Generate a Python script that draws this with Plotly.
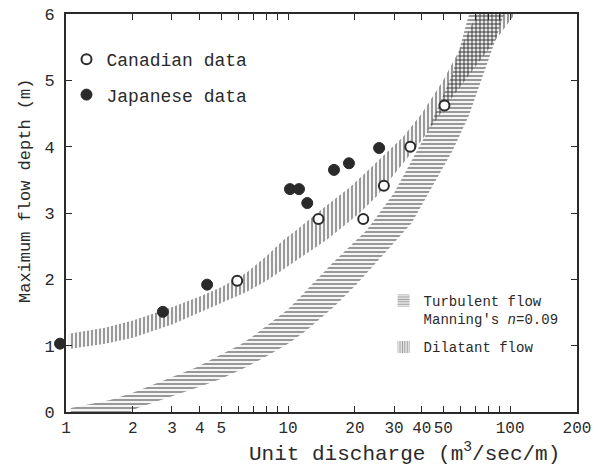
import math
import plotly.graph_objects as go

# ---- data ----
can_x = [5.9, 13.7, 21.8, 27.0, 35.5, 50.6]
can_y = [1.98, 2.91, 2.91, 3.41, 4.00, 4.62]

jap_x = [0.94, 2.73, 4.32, 10.2, 11.2, 12.2, 16.1, 18.8, 25.7]
jap_y = [1.03, 1.51, 1.92, 3.36, 3.36, 3.15, 3.65, 3.75, 3.98]

# Dilatant flow band (vertical hatching)
dil_upper_x = [1.03, 1.5, 2, 3, 4, 5, 6.5, 8, 9.5, 11, 13.5, 16, 19, 23, 27, 33, 40, 50, 60, 72]
dil_upper_y = [1.18, 1.27, 1.38, 1.58, 1.74, 1.88, 2.10, 2.35, 2.59, 2.75, 3.00, 3.20, 3.39, 3.65, 3.87, 4.15, 4.50, 5.00, 5.50, 6.05]
dil_lower_x = [1.03, 1.5, 2, 3, 4, 5, 6.5, 8, 10, 12.5, 15, 18, 21, 25, 30, 40, 55, 75, 95, 108]
dil_lower_y = [0.95, 1.03, 1.12, 1.32, 1.50, 1.64, 1.81, 1.98, 2.20, 2.42, 2.60, 2.82, 3.00, 3.25, 3.58, 4.10, 4.75, 5.35, 5.80, 6.05]

# Turbulent flow band, Manning's n = 0.09 (horizontal hatching)
tur_upper_x = [1.05, 1.58, 2, 2.57, 3.36, 3.9, 4.94, 6.07, 7, 8, 10, 11.3, 15.9, 22.6, 30, 42, 55, 66]
tur_upper_y = [0.06, 0.18, 0.29, 0.44, 0.59, 0.68, 0.86, 1.01, 1.15, 1.30, 1.55, 1.73, 2.25, 2.74, 3.30, 4.20, 5.10, 6.05]
tur_lower_x = [1.05, 1.95, 2.1, 3, 4, 5, 6.5, 8, 10, 12, 16, 20, 24, 30, 36, 45, 55, 65, 78, 88, 95]
tur_lower_y = [0.0, 0.0, 0.06, 0.24, 0.38, 0.50, 0.68, 0.84, 1.03, 1.22, 1.58, 1.90, 2.20, 2.55, 2.85, 3.42, 3.94, 4.46, 5.20, 5.71, 6.05]

x_tick_vals = [1, 2, 3, 4, 5, 10, 20, 30, 40, 50, 100, 200]
x_minor_vals = [6, 7, 8, 9, 60, 70, 80, 90]
x_decade_vals = [10, 100]
y_tick_vals = [0, 1, 2, 3, 4, 5, 6]

FONT = "Liberation Mono, Courier New, monospace"
INK = "#2a2a2a"
HATCH = "#333333"

# the page body adds an 8px offset; lay out in screen pixels and shift
OFF = 8
W, H = 601 - OFF, 466 - OFF
SCR_LEFT, SCR_RIGHT, SCR_TOP, SCR_BOTTOM = 66, 577, 14, 412   # plot frame on screen
SCR_EXT_LEFT = 50                                              # room for the point left of x=1
ML = SCR_EXT_LEFT - OFF
MR = W - (SCR_RIGHT - OFF)
MT = SCR_TOP - OFF
MB = H - (SCR_BOTTOM - OFF)
PW = W - ML - MR
PH = H - MT - MB
X_MIN, X_MAX = 1, 200
dom0 = (SCR_LEFT - SCR_EXT_LEFT) / PW
px_per_dec = (SCR_RIGHT - SCR_LEFT) / math.log10(X_MAX / X_MIN)
ext_min = math.log10(X_MIN) - (SCR_LEFT - SCR_EXT_LEFT) / px_per_dec


def px_x(sx):
    return (sx - SCR_EXT_LEFT) / PW


def px_y(sy):
    return (SCR_BOTTOM - sy) / PH


fig = go.Figure()

fig.add_trace(go.Scatter(
    x=tur_upper_x + tur_lower_x[::-1],
    y=tur_upper_y + tur_lower_y[::-1],
    mode="lines", fill="toself", line=dict(width=0, color=HATCH),
    fillcolor="rgba(0,0,0,0)",
    fillpattern=dict(shape="-", size=4, solidity=0.55, fgcolor=HATCH, bgcolor="rgba(0,0,0,0)"),
    showlegend=False, hoverinfo="skip",
))
fig.add_trace(go.Scatter(
    x=dil_upper_x + dil_lower_x[::-1],
    y=dil_upper_y + dil_lower_y[::-1],
    mode="lines", fill="toself", line=dict(width=0, color=HATCH),
    fillcolor="rgba(0,0,0,0)",
    fillpattern=dict(shape="|", size=4, solidity=0.55, fgcolor=HATCH, bgcolor="rgba(0,0,0,0)"),
    showlegend=False, hoverinfo="skip",
))

# legend swatches for the two hatched bands (no data of their own)
fig.add_trace(go.Bar(
    x=[None], y=[None], name="Turbulent flow<br>Manning's <i>n</i>=0.09",
    marker=dict(color="white", line=dict(width=0),
                pattern=dict(shape="-", size=3, solidity=0.55, fgcolor=HATCH, bgcolor="white")),
    legend="legend2", legendgroup="t",
))
fig.add_trace(go.Bar(
    x=[None], y=[None], name="Dilatant flow",
    marker=dict(color="white", line=dict(width=0),
                pattern=dict(shape="|", size=3, solidity=0.55, fgcolor=HATCH, bgcolor="white")),
    legend="legend2", legendgroup="d",
))

fig.add_trace(go.Scatter(
    x=can_x, y=can_y, mode="markers", name="Canadian data",
    xaxis="x2", yaxis="y",
    marker=dict(symbol="circle", size=10, color="white", line=dict(color=INK, width=2)),
    cliponaxis=False, legend="legend", legendgroup="c",
))
fig.add_trace(go.Scatter(
    x=jap_x, y=jap_y, mode="markers", name="Japanese data",
    xaxis="x2", yaxis="y",
    marker=dict(symbol="circle", size=11, color=INK, line=dict(color=INK, width=1)),
    cliponaxis=False, legend="legend", legendgroup="j",
))

fig.update_layout(
    width=W, height=H,
    margin=dict(l=ML, r=MR, t=MT, b=MB),
    paper_bgcolor="white", plot_bgcolor="rgba(0,0,0,0)",
    font=dict(family=FONT, color=INK, size=16),
    showlegend=True,
    legend=dict(
        x=px_x(66.5), y=px_y(41), xanchor="left", yanchor="top",
        font=dict(family=FONT, size=18, color=INK),
        bgcolor="rgba(0,0,0,0)", tracegroupgap=9, itemwidth=30,
    ),
    legend2=dict(
        x=px_x(383.6), y=px_y(285), xanchor="left", yanchor="top",
        font=dict(family=FONT, size=14, color=INK),
        bgcolor="rgba(0,0,0,0)", tracegroupgap=7, valign="top", itemwidth=30,
    ),
    xaxis=dict(
        type="log", range=[math.log10(X_MIN), math.log10(X_MAX)],
        domain=[dom0, 1], anchor="y", automargin=False,
        tickvals=x_tick_vals, ticktext=[str(v) for v in x_tick_vals], tickangle=0,
        ticks="inside", ticklen=6, tickwidth=1.3, tickcolor=INK,
        showline=True, linecolor=INK, linewidth=1.6, mirror="ticks",
        showgrid=False, zeroline=False, ticklabeloverflow="allow",
        tickfont=dict(family=FONT, size=16, color=INK),
        minor=dict(tickvals=x_minor_vals, ticks="inside", ticklen=6, tickwidth=1.3,
                   tickcolor=INK, showgrid=False),
    ),
    xaxis2=dict(
        type="log", range=[ext_min, math.log10(X_MAX)],
        domain=[0, 1], anchor="y", visible=False, automargin=False,
    ),
    xaxis3=dict(
        type="log", range=[math.log10(X_MIN), math.log10(X_MAX)],
        overlaying="x", anchor="y", automargin=False,
        tickvals=x_decade_vals, showticklabels=False,
        ticks="inside", ticklen=11, tickwidth=1.3, tickcolor=INK,
        showline=True, linecolor=INK, linewidth=1.6, mirror="ticks",
        showgrid=False, zeroline=False,
    ),
    yaxis=dict(
        range=[0, 6], tickvals=y_tick_vals, anchor="x", automargin=False,
        ticks="inside", ticklen=6, tickwidth=1.3, tickcolor=INK,
        showline=True, linecolor=INK, linewidth=1.6, mirror="ticks",
        showgrid=False, zeroline=False, ticklabeloverflow="allow",
        tickfont=dict(family=FONT, size=17, color=INK),
        ticklabelstandoff=6,
    ),
    annotations=[
        dict(text="Unit discharge (m<sup>3</sup>/sec/m)", xref="paper", yref="paper",
             x=px_x(404), y=px_y(452),
             xanchor="center", yanchor="middle", showarrow=False,
             font=dict(family=FONT, size=21, color=INK)),
        dict(text="Maximum flow depth (m)", xref="paper", yref="paper",
             x=px_x(25), y=px_y(191),
             xanchor="center", yanchor="middle", showarrow=False, textangle=-90,
             font=dict(family=FONT, size=17, color=INK)),
    ],
)

fig.write_html("out.html")
